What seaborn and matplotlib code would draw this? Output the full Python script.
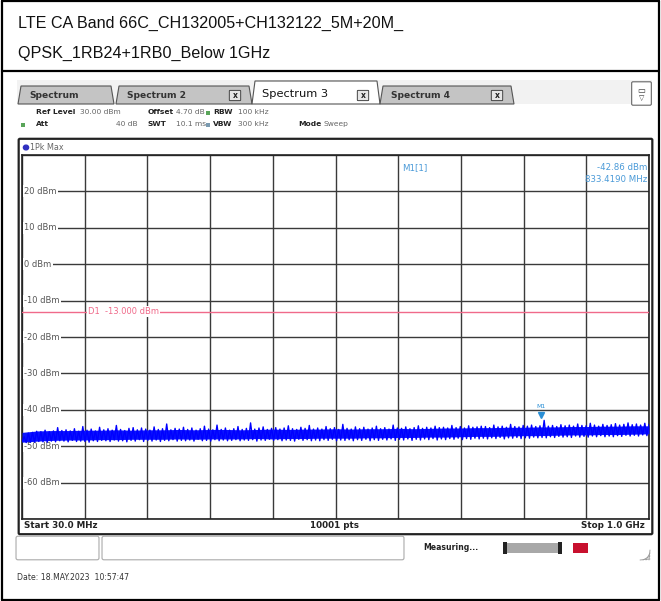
import numpy as np
import pandas as pd
import matplotlib
matplotlib.use("Agg")
import matplotlib.pyplot as plt
from matplotlib.patches import Rectangle, FancyBboxPatch, Polygon
from matplotlib.lines import Line2D
import matplotlib.transforms as mtransforms
import seaborn as sns

# ---------------- data ----------------
title_lines = ["LTE CA Band 66C_CH132005+CH132122_5M+20M_",
               "QPSK_1RB24+1RB0_Below 1GHz"]
start_mhz = 30.0
stop_mhz = 1000.0
ref_top = 30
ref_bottom = -70
y_tick_levels = [20, 10, 0, -10, -20, -30, -40, -50, -60]
limit_line_dbm = -13.0
marker_freq_mhz = 833.419
marker_level_dbm = -42.86

trace_dbm = [
    -48.8, -47.4, -49.0, -46.4, -48.9, -46.2, -48.9, -45.9, -48.7, -46.0, -48.8, -45.6, -48.9, -46.0, -48.6, -45.8, -48.8, -44.9, -48.5, -45.7,
    -48.6, -45.5, -48.8, -45.8, -48.4, -45.2, -48.7, -45.9, -48.6, -44.6, -48.7, -45.6, -48.9, -45.3, -48.5, -45.8, -48.7, -44.8, -48.4, -45.5,
    -48.5, -45.2, -48.7, -45.6, -48.3, -44.3, -48.6, -45.4, -48.5, -45.7, -48.8, -45.1, -48.4, -44.9, -48.6, -45.5, -48.2, -45.0, -48.7, -45.3,
    -48.4, -45.6, -48.6, -44.7, -48.3, -45.4, -48.7, -45.2, -48.4, -43.9, -48.5, -45.5, -48.2, -45.1, -48.6, -45.3, -48.4, -44.8, -48.5, -45.4,
    -48.3, -45.0, -48.6, -45.6, -48.1, -45.2, -48.5, -44.5, -48.4, -45.3, -48.6, -45.5, -48.2, -44.2, -48.5, -45.4, -48.3, -45.0, -48.5, -45.6,
    -48.4, -45.2, -48.2, -44.6, -48.5, -45.4, -48.3, -45.1, -48.4, -43.6, -48.2, -45.3, -48.6, -45.0, -48.3, -44.7, -48.4, -45.4, -48.1, -45.1,
    -48.4, -44.9, -48.2, -45.3, -48.5, -45.0, -48.3, -44.4, -48.4, -45.2, -48.6, -45.4, -48.1, -44.8, -48.4, -45.1, -48.2, -44.3, -48.5, -45.3,
    -48.3, -45.0, -48.5, -45.3, -48.2, -44.6, -48.4, -45.2, -48.1, -44.9, -48.5, -45.4, -48.3, -44.0, -48.4, -45.1, -48.2, -45.3, -48.5, -44.7,
    -48.2, -45.2, -48.4, -44.8, -48.1, -45.3, -48.5, -45.0, -48.2, -44.5, -48.4, -45.2, -48.1, -44.9, -48.3, -45.3, -48.0, -44.2, -48.4, -45.0,
    -48.1, -45.1, -48.3, -44.7, -48.0, -45.2, -48.4, -44.9, -48.1, -44.4, -48.3, -45.1, -48.0, -44.8, -48.2, -45.0, -47.9, -44.5, -48.3, -44.9,
    -48.0, -44.8, -48.2, -45.0, -47.9, -44.3, -48.1, -44.9, -47.8, -44.6, -48.2, -45.0, -47.9, -44.4, -48.1, -44.8, -47.8, -44.7, -48.0, -44.5,
    -47.8, -44.6, -48.0, -44.9, -47.7, -44.2, -47.9, -44.7, -47.6, -44.5, -48.0, -44.8, -47.7, -44.0, -47.8, -44.6, -47.6, -44.7, -47.9, -44.3,
    -47.7, -44.5, -47.8, -44.2, -47.5, -44.6, -47.7, -44.4, -47.6, -42.9, -47.7, -44.5, -47.4, -44.3, -47.6, -44.6, -47.3, -44.1, -47.5, -44.4,
    -47.4, -44.2, -47.6, -44.5, -47.2, -43.9, -47.5, -44.3, -47.3, -44.4, -47.5, -43.7, -47.2, -44.2, -47.4, -44.5, -47.1, -44.0, -47.4, -44.3,
    -47.2, -44.1, -47.4, -43.8, -47.1, -44.2, -47.3, -44.0, -47.0, -43.6, -47.2, -44.1, -47.0, -43.9, -47.2, -44.2, -46.9, -43.7, -47.1, -44.0,
]

# dense noise floor band (upper / lower envelope), read every ~24 MHz
band_upper_dbm = [
    -46.2, -45.8, -45.7, -45.7, -45.6, -45.6, -45.5, -45.6, -45.5, -45.5, -45.4,
    -45.5, -45.4, -45.4, -45.5, -45.4, -45.3, -45.4, -45.3, -45.3, -45.2, -45.3,
    -45.2, -45.2, -45.1, -45.2, -45.1, -45.0, -45.0, -44.9, -44.9, -44.8, -44.8,
    -44.7, -44.7, -44.6, -44.6, -44.5, -44.5, -44.4, -44.4,
]
band_lower_dbm = [
    -48.9, -48.6, -48.4, -48.3, -48.3, -48.2, -48.2, -48.1, -48.1, -48.1, -48.0,
    -48.1, -48.0, -48.0, -48.0, -47.9, -48.0, -47.9, -47.9, -47.8, -47.8, -47.8,
    -47.7, -47.7, -47.6, -47.6, -47.5, -47.5, -47.4, -47.3, -47.3, -47.2, -47.1,
    -47.1, -47.0, -46.9, -46.9, -46.8, -46.8, -46.7, -46.6,
]

info_row1 = [("Ref Level", True, 36), ("30.00 dBm", False, 80), ("Offset", True, 148),
             ("4.70 dB", False, 176), ("RBW", True, 213), ("100 kHz", False, 238)]
info_row2 = [("Att", True, 36), ("40 dB", False, 116), ("SWT", True, 148),
             ("10.1 ms", False, 176), ("VBW", True, 213), ("300 kHz", False, 238),
             ("Mode", True, 298), ("Sweep", False, 324)]
tab_labels = ["Spectrum", "Spectrum 2", "Spectrum 3", "Spectrum 4"]

# ---------------- figure ----------------
sns.set_style("white")
plt.rcParams["font.family"] = ["DejaVu Sans"]

W, H = 661, 601
fig = plt.figure(figsize=(W / 100, H / 100), dpi=100)
fig.patch.set_facecolor("white")


def fx(px):
    return px / W


def fy(py):
    return 1 - py / H


def ftext(px, py, s, **kw):
    fig.text(fx(px), fy(py), s, **kw)


# outer table borders
for (x0, y0, x1, y1) in [(2, 0.5, 2, 600), (658.5, 0.5, 658.5, 600), (2, 0.8, 658.5, 0.8),
                         (2, 599.5, 658.5, 599.5), (2, 71, 658.5, 71)]:
    fig.add_artist(Line2D([fx(x0), fx(x1)], [fy(y0), fy(y1)], color="black", lw=1.6))

ftext(18, 23, title_lines[0], fontsize=11.6, family="Liberation Sans", va="center", color="#111")
ftext(18, 53, title_lines[1], fontsize=11.6, family="Liberation Sans", va="center", color="#111")

# tab bar background
fig.add_artist(Rectangle((fx(17), fy(104)), fx(652) - fx(17), fy(80) - fy(104),
                         facecolor="#f2f2f2", edgecolor="none"))
tabs = [(18, 114, False), (116, 252, False), (252, 380, True), (380, 514, False)]
for (x0, x1, active), lab in zip(tabs, tab_labels):
    top = 81 if active else 86
    poly = Polygon([(fx(x0), fy(104)), (fx(x0 + 3), fy(top)), (fx(x1 - 3), fy(top)), (fx(x1), fy(104))],
                   closed=True, facecolor="white" if active else "#c4c4c4",
                   edgecolor="#555", lw=0.8)
    fig.add_artist(poly)
    if active:
        ftext(x0 + 10, 94, lab, fontsize=8.2, va="center", color="#111")
    else:
        ftext(x0 + 11, 96, lab, fontsize=6.6, va="center", color="#333", weight="bold")
    if lab != "Spectrum":
        bx = x1 - 22
        fig.add_artist(FancyBboxPatch((fx(bx), fy(100)), fx(10) - fx(0), fy(91) - fy(100),
                                      boxstyle="round,pad=0.001", facecolor="#e6e6e6",
                                      edgecolor="#444", lw=0.7))
        ftext(bx + 5, 95.5, "x", fontsize=5.5, ha="center", va="center", color="#222", weight="bold")
# icon top-right
fig.add_artist(FancyBboxPatch((fx(633), fy(104)), fx(17) - fx(0), fy(83) - fy(104),
                              boxstyle="round,pad=0.002", facecolor="white", edgecolor="#666", lw=0.8))
ftext(641.5, 91, "▭", fontsize=6, ha="center", va="center", color="#333")
ftext(641.5, 98, "▽", fontsize=5, ha="center", va="center", color="#333")

# info rows
for row, py in ((info_row1, 112), (info_row2, 124)):
    for s, bold, px in row:
        ftext(px, py, s, fontsize=5.4, va="center", color="#222" if bold else "#666",
              weight="bold" if bold else "normal")
for (px, py, c) in [(208, 113, "#5aa55a"), (208, 125, "#7a9ab0"), (23, 125, "#5aa55a")]:
    fig.add_artist(Rectangle((fx(px - 2), fy(py + 2)), fx(4) - fx(0), fy(0) - fy(4),
                             facecolor=c, edgecolor="none"))

# display frame
fig.add_artist(FancyBboxPatch((fx(20), fy(533)), fx(651) - fx(20), fy(140) - fy(533),
                              boxstyle="round,pad=0.002", facecolor="none", edgecolor="#222", lw=1.6))
fig.add_artist(plt.Circle((fx(26), fy(147.5)), 2.6 / W, transform=fig.transFigure,
                          color="#3030c0"))
ftext(30, 147.5, "1Pk Max", fontsize=5.8, va="center", color="#666")

# bottom bar text
ftext(24, 526, "Start 30.0 MHz", fontsize=6.3, va="center", weight="bold", color="#222")
ftext(335, 526, "10001 pts", fontsize=6.3, va="center", ha="center", weight="bold", color="#222")
ftext(645, 526, "Stop 1.0 GHz", fontsize=6.3, va="center", ha="right", weight="bold", color="#222")

# status area
fig.add_artist(FancyBboxPatch((fx(18), fy(558)), fx(97) - fx(18), fy(538) - fy(558),
                              boxstyle="round,pad=0.003", facecolor="white", edgecolor="#aaa", lw=0.8))
fig.add_artist(FancyBboxPatch((fx(104), fy(558)), fx(402) - fx(104), fy(538) - fy(558),
                              boxstyle="round,pad=0.003", facecolor="white", edgecolor="#aaa", lw=0.8))
ftext(423, 548, "Measuring...", fontsize=5.6, va="center", weight="bold", color="#222")
fig.add_artist(Rectangle((fx(503), fy(553)), fx(59) - fx(0), fy(0) - fy(10),
                         facecolor="#a8a8a8", edgecolor="none"))
for px in (503, 558):
    fig.add_artist(Rectangle((fx(px), fy(554)), fx(4) - fx(0), fy(0) - fy(12),
                             facecolor="#222", edgecolor="none"))
fig.add_artist(Rectangle((fx(573), fy(553)), fx(15) - fx(0), fy(0) - fy(10),
                         facecolor="#c8102e", edgecolor="none"))
for k in range(4):
    fig.add_artist(Line2D([fx(640 + k * 3), fx(650)], [fy(560), fy(550 - k * 3 + 9)],
                          color="#999", lw=0.6))
ftext(17, 577, "Date: 18.MAY.2023  10:57:47", fontsize=5.6, va="center", color="#333")

# ---------------- spectrum axes ----------------
ax = fig.add_axes([fx(22), fy(519), fx(627) - fx(0), fy(155) - fy(519)])
ax.set_facecolor("white")
freqs = np.linspace(start_mhz, stop_mhz, len(trace_dbm))
df = pd.DataFrame({"freq": freqs, "level": trace_dbm})
band_freqs = np.linspace(start_mhz, stop_mhz, len(band_upper_dbm))

ax.set_xlim(start_mhz, stop_mhz)
ax.set_ylim(ref_bottom, ref_top)
ax.set_xticks(np.linspace(start_mhz, stop_mhz, 11))
ax.set_yticks(np.arange(ref_bottom, ref_top + 1, 10))
ax.grid(True, color="#3a3a3a", lw=1.0)
ax.set_axisbelow(True)
ax.tick_params(length=0, labelbottom=False, labelleft=False)
for sp in ax.spines.values():
    sp.set_color("#222")
    sp.set_linewidth(1.2)

blend = mtransforms.blended_transform_factory(ax.transAxes, ax.transData)
for lvl in y_tick_levels:
    ax.text(0.0035, lvl, f"{lvl} dBm", transform=blend, fontsize=6.0, color="#555",
            va="center", ha="left", zorder=3,
            bbox=dict(boxstyle="square,pad=0.18", facecolor="white", edgecolor="none"))

ax.axhline(limit_line_dbm, color="#f06a8a", lw=1.0, zorder=4)
ax.text(0.105, limit_line_dbm, "D1  -13.000 dBm", transform=blend, fontsize=6.0,
        color="#f06a8a", va="center", ha="left", zorder=5,
        bbox=dict(boxstyle="square,pad=0.1", facecolor="white", edgecolor="none"))

ax.fill_between(band_freqs, band_lower_dbm, band_upper_dbm, color="#0a14ff", lw=0, zorder=6)
sns.lineplot(data=df, x="freq", y="level", ax=ax, color="#0000ff", lw=1.0,
             zorder=6, legend=False)
ax.set_xlabel("")
ax.set_ylabel("")

ax.plot([marker_freq_mhz], [marker_level_dbm + 1.3], marker="v", color="#2a8fd6",
        ms=4.5, zorder=7)
ax.text(marker_freq_mhz, marker_level_dbm + 3.2, "M1", fontsize=4.5, color="#2a8fd6",
        ha="center", va="bottom", zorder=7)

ax.text(0.607, 0.965, "M1[1]", transform=ax.transAxes, fontsize=6.2, color="#4a9ad8",
        ha="left", va="center")
ax.text(0.998, 0.965, f"{marker_level_dbm:.2f} dBm", transform=ax.transAxes, fontsize=6.2,
        color="#4a9ad8", ha="right", va="center")
ax.text(0.998, 0.933, f"{marker_freq_mhz:.4f} MHz", transform=ax.transAxes, fontsize=6.2,
        color="#4a9ad8", ha="right", va="center")

fig.savefig("out.png", dpi=100, facecolor="white")
